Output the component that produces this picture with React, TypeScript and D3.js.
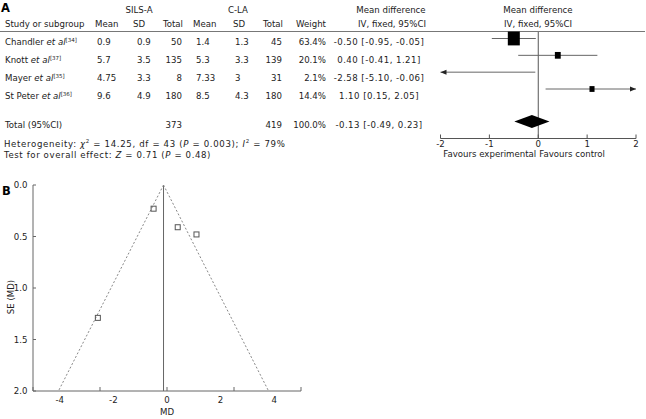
import * as d3 from "d3";

// panel A table
const studies = ["Chandler", "Knott", "Mayer", "St Peter"];
const refs = ["34", "37", "35", "36"];
const silsMean = ["0.9", "5.7", "4.75", "9.6"];
const silsSD = ["0.9", "3.5", "3.3", "4.9"];
const silsTotal = [50, 135, 8, 180];
const claMean = ["1.4", "5.3", "7.33", "8.5"];
const claSD = ["1.3", "3.3", "3", "4.3"];
const claTotal = [45, 139, 31, 180];
const weights = [63.4, 20.1, 2.1, 14.4];
const md = [-0.5, 0.4, -2.58, 1.1];
const ciLow = [-0.95, -0.41, -5.1, 0.15];
const ciHigh = [-0.05, 1.21, -0.06, 2.05];
const pooledMD = -0.13;
const pooledLow = -0.49;
const pooledHigh = 0.23;
const totalSils = 373;
const totalCla = 419;
const forestTicks = [-2, -1, 0, 1, 2];

// panel B funnel
const se = [0.23, 0.41, 1.29, 0.48];
const funnelTickMarks = [-5, -2.5, 0, 2.5, 5];
const funnelTickLabels = [-4, -2, 0, 2, 4];
const seTicks = [0, 0.5, 1, 1.5, 2];

const FONT = "DejaVu Sans, Verdana, sans-serif";
const FS = 8.6;

const fmtCI = (m: number, lo: number, hi: number) =>
  `${m.toFixed(2)} [${lo.toFixed(2)}, ${hi.toFixed(2)}]`;

export default function App() {
  // rows of the table (text baselines) and of the plot (line centres)
  const rowText = d3.scaleLinear().domain([0, 3]).range([45, 99.3]);
  const rowPlot = d3.scaleLinear().domain([0, 3]).range([38.5, 89]);
  const xF = d3.scaleLinear().domain([-2, 2]).range([440.5, 636]);
  const boxSize = d3.scaleLinear().domain([0, 63.4]).range([3, 12]);
  const [fMin, fMax] = xF.domain();

  const xB = d3.scaleLinear().domain([-5, 5]).range([33, 301]);
  const yB = d3.scaleLinear().domain([0, 2]).range([185, 391]);

  const diamondY = 121.5;
  const diamond = d3.line()([
    [xF(pooledLow), diamondY],
    [xF(pooledMD), diamondY - 6.5],
    [xF(pooledHigh), diamondY],
    [xF(pooledMD), diamondY + 6.5],
  ]) + "Z";

  const funnelLeft = d3.line()([
    [xB(pooledMD), yB(0)],
    [xB(pooledMD - 1.96 * 2), yB(2)],
  ]);
  const funnelRight = d3.line()([
    [xB(pooledMD), yB(0)],
    [xB(pooledMD + 1.96 * 2), yB(2)],
  ]);

  const arrow = (x: number, y: number, dir: number) =>
    `M${x},${y}L${x - dir * 6},${y - 2.5}L${x - dir * 6},${y + 2.5}Z`;

  return (
    <svg
      width={646}
      height={419}
      style={{ position: "absolute", left: 0, top: 0, background: "#fff" }}
      fontFamily={FONT}
      fontSize={FS}
      fill="#222"
    >
      {/* ---------- panel A ---------- */}
      <text x={1} y={12} fontSize={11.5} fontWeight="bold" fill="#000">A</text>
      <text x={139} y={12.7} textAnchor="middle">SILS-A</text>
      <text x={238} y={12.7} textAnchor="middle">C-LA</text>
      <text x={391} y={12.7} textAnchor="middle">Mean difference</text>
      <text x={538} y={12.7} textAnchor="middle">Mean difference</text>

      <text x={5} y={27}>Study or subgroup</text>
      <text x={95} y={27}>Mean</text>
      <text x={133} y={27}>SD</text>
      <text x={183} y={27} textAnchor="end">Total</text>
      <text x={193} y={27}>Mean</text>
      <text x={233} y={27}>SD</text>
      <text x={283} y={27} textAnchor="end">Total</text>
      <text x={326} y={27} textAnchor="end">Weight</text>
      <text x={392} y={27} textAnchor="middle">IV, fixed, 95%CI</text>
      <text x={538} y={27} textAnchor="middle">IV, fixed, 95%CI</text>
      <line x1={0} x2={645} y1={31.5} y2={31.5} stroke="#777" strokeWidth={1} />

      {studies.map((s, i) => {
        const y = rowText(i);
        return (
          <g key={s}>
            <text x={5} y={y}>
              {s} <tspan fontStyle="italic">et al</tspan>
              <tspan fontSize={5.5} dy={-3.5}>[{refs[i]}]</tspan>
            </text>
            <text x={97} y={y}>{silsMean[i]}</text>
            <text x={137} y={y}>{silsSD[i]}</text>
            <text x={182} y={y} textAnchor="end">{silsTotal[i]}</text>
            <text x={196} y={y}>{claMean[i]}</text>
            <text x={235} y={y}>{claSD[i]}</text>
            <text x={282} y={y} textAnchor="end">{claTotal[i]}</text>
            <text x={326} y={y} textAnchor="end">{weights[i].toFixed(1)}%</text>
            <text x={379} y={y} textAnchor="middle" letterSpacing={0.45}>
              {fmtCI(md[i], ciLow[i], ciHigh[i])}
            </text>
          </g>
        );
      })}

      <text x={5} y={128.3}>Total (95%CI)</text>
      <text x={182} y={128.3} textAnchor="end">{totalSils}</text>
      <text x={282} y={128.3} textAnchor="end">{totalCla}</text>
      <text x={326} y={128.3} textAnchor="end">100.0%</text>
      <text x={379} y={128.3} textAnchor="middle" letterSpacing={0.45}>
        {fmtCI(pooledMD, pooledLow, pooledHigh)}
      </text>

      <text x={4} y={146.5} letterSpacing={0.65}>
        Heterogeneity: <tspan fontStyle="italic">χ</tspan>
        <tspan fontSize={5.5} dy={-3.5}>2</tspan>
        <tspan dy={3.5}> = 14.25, df = 43 (</tspan>
        <tspan fontStyle="italic">P</tspan> = 0.003); <tspan fontStyle="italic">I</tspan>
        <tspan fontSize={5.5} dy={-3.5}>2</tspan>
        <tspan dy={3.5}> = 79%</tspan>
      </text>
      <text x={4} y={158} letterSpacing={0.6}>
        Test for overall effect: <tspan fontStyle="italic">Z</tspan> = 0.71 (
        <tspan fontStyle="italic">P</tspan> = 0.48)
      </text>

      {/* forest plot */}
      <line x1={xF(0)} x2={xF(0)} y1={32} y2={138.5} stroke="#555" />
      {studies.map((s, i) => {
        const y = rowPlot(i);
        const lo = Math.max(ciLow[i], fMin);
        const hi = Math.min(ciHigh[i], fMax);
        const w = boxSize(weights[i]);
        const inside = md[i] >= fMin && md[i] <= fMax;
        return (
          <g key={"f" + s}>
            <line x1={xF(lo)} x2={xF(hi)} y1={y} y2={y} stroke="#666" />
            {ciLow[i] < fMin && <path d={arrow(xF(fMin), y, -1)} fill="#222" />}
            {ciHigh[i] > fMax && <path d={arrow(xF(fMax), y, 1)} fill="#222" />}
            {inside && (
              <rect
                x={xF(md[i]) - w / 2}
                y={y - (w * 1.15) / 2}
                width={w}
                height={w * 1.15}
                fill="#000"
              />
            )}
          </g>
        );
      })}
      <path d={diamond} fill="#000" />
      <line x1={xF(fMin)} x2={xF(fMax)} y1={138.5} y2={138.5} stroke="#555" />
      {forestTicks.map((t) => (
        <g key={"ft" + t}>
          <line x1={xF(t)} x2={xF(t)} y1={138.5} y2={134.5} stroke="#555" />
          <text x={xF(t)} y={146.8} textAnchor="middle">{t}</text>
        </g>
      ))}
      <text x={xF(0) - 2} y={157.2} textAnchor="end">Favours experimental</text>
      <text x={xF(0) + 1} y={157.2}>Favours control</text>

      {/* ---------- panel B ---------- */}
      <text x={2} y={194.5} fontSize={11.5} fontWeight="bold" fill="#000">B</text>
      <line x1={xB(-5)} x2={xB(-5)} y1={yB(0)} y2={yB(2)} stroke="#666" />
      <line x1={xB(-5)} x2={xB(5)} y1={yB(2)} y2={yB(2)} stroke="#666" />
      {seTicks.map((t) => (
        <g key={"st" + t}>
          <line x1={xB(-5)} x2={xB(-5) + 3} y1={yB(t)} y2={yB(t)} stroke="#666" />
          <text x={27.5} y={yB(t) + 3.3} textAnchor="end">{t.toFixed(1)}</text>
        </g>
      ))}
      {funnelTickMarks.map((t) => (
        <line key={"fm" + t} x1={xB(t)} x2={xB(t)} y1={yB(2)} y2={yB(2) - 4} stroke="#666" />
      ))}
      {funnelTickLabels.map((t) => (
        <text key={"fl" + t} x={xB(t)} y={402.5} textAnchor="middle">{t}</text>
      ))}
      <text x={xB(0)} y={415} textAnchor="middle">MD</text>
      <text
        transform={`translate(14,${(yB(0) + yB(2)) / 2 + 9}) rotate(-90)`}
        textAnchor="middle"
      >
        SE (MD)
      </text>

      <line x1={xB(pooledMD)} x2={xB(pooledMD)} y1={yB(0)} y2={yB(2)} stroke="#666" />
      <path d={funnelLeft ?? ""} stroke="#888" strokeDasharray="2,2" fill="none" />
      <path d={funnelRight ?? ""} stroke="#888" strokeDasharray="2,2" fill="none" />
      {md.map((m, i) => (
        <rect
          key={"p" + i}
          x={xB(m) - 2.5}
          y={yB(se[i]) - 2.5}
          width={5}
          height={5}
          fill="none"
          stroke="#555"
        />
      ))}
    </svg>
  );
}
